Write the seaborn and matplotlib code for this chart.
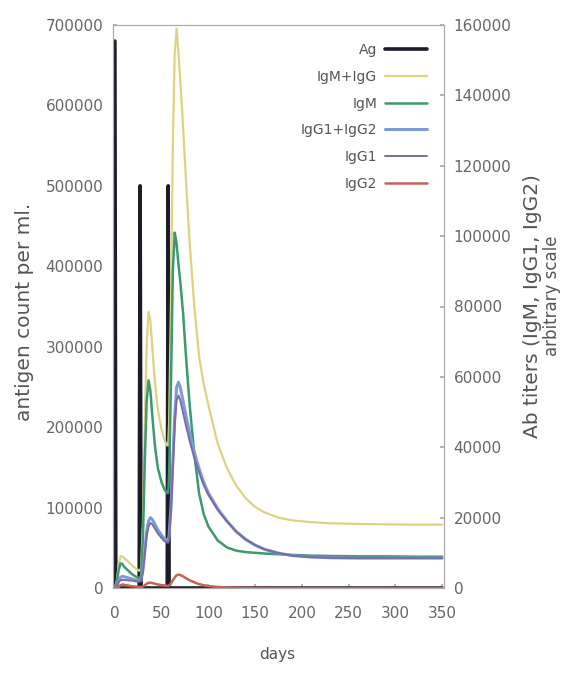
import numpy as np
import pandas as pd
import matplotlib
matplotlib.use("Agg")
import matplotlib.pyplot as plt
import seaborn as sns
from matplotlib.lines import Line2D

# ---------------- data ----------------
ag_days = [0, 1, 26, 27, 28, 56, 57, 58, 350]
ag_counts = [680000, 0, 0, 500000, 0, 0, 500000, 0, 0]

ab_days = [0, 2, 4, 6, 8, 10, 14, 18, 22, 26, 27, 28,
           30, 32, 34, 36, 38, 40, 43, 46, 50, 53, 56, 57,
           58, 60, 62, 64, 66, 68, 70, 73, 76, 80, 85, 90,
           95, 100, 110, 120, 130, 140, 150, 160, 175, 190, 210, 230,
           260, 290, 320, 350]

igm_igg = [0, 2000, 6500, 9000, 9000, 8500, 7600, 6500, 5600, 4900, 4900, 5800,
           19000, 46500, 69000, 78500, 76000, 68500, 58000, 50500, 45000, 42000, 40500, 40500,
           47000, 81000, 126000, 152000, 159000, 152000, 144000, 131000, 116000, 98000, 80000, 66000,
           58000, 52000, 41000, 34000, 29000, 25500, 23000, 21500, 20000, 19200, 18700, 18400,
           18200, 18100, 18000, 18000]

igm = [0, 1500, 5000, 7000, 6800, 6000, 5000, 4000, 3300, 2800, 2800, 3500,
       14000, 36000, 53000, 59000, 56000, 49000, 40000, 34000, 30000, 28000, 27000, 27000,
       32000, 58000, 90000, 101000, 98000, 92000, 87000, 78000, 66000, 52000, 38000, 27000,
       21000, 17500, 13500, 11500, 10600, 10200, 10000, 9800, 9600, 9400, 9200, 9100,
       9000, 9000, 8900, 8900]

igg1_igg2 = [0, 500, 2000, 3000, 3300, 3200, 2900, 2600, 2300, 2100, 2100, 2300,
             5000, 10500, 16000, 19000, 20000, 19500, 18000, 16500, 15000, 14000, 13500, 13500,
             15000, 23000, 36000, 49000, 57000, 58500, 57000, 53000, 49000, 44000, 38500, 34000,
             30000, 27000, 22500, 19000, 16000, 13800, 12200, 11000, 9900, 9200, 8800, 8600,
             8500, 8500, 8500, 8500]

igg1 = [0, 500, 1700, 2200, 2300, 2300, 2200, 2100, 1900, 1800, 1800, 2000,
        4600, 9700, 14800, 17500, 18500, 18100, 16800, 15500, 14200, 13300, 12900, 12900,
        14300, 21700, 33800, 46000, 53400, 54700, 53300, 49700, 46200, 41800, 36900, 32900,
        29200, 26450, 22200, 18850, 15920, 13760, 12180, 10990, 9900, 9200, 8800, 8600,
        8500, 8500, 8500, 8500]

igg2 = [0, 0, 300, 800, 1000, 900, 700, 500, 400, 300, 300, 300,
        400, 800, 1200, 1500, 1500, 1400, 1200, 1000, 800, 700, 600, 600,
        700, 1300, 2200, 3000, 3600, 3800, 3700, 3300, 2800, 2200, 1600, 1100,
        800, 550, 300, 150, 80, 40, 20, 10, 0, 0, 0, 0,
        0, 0, 0, 0]

series_names = ["Ag", "IgM+IgG", "IgM", "IgG1+IgG2", "IgG1", "IgG2"]
left_ticks = [0, 100000, 200000, 300000, 400000, 500000, 600000, 700000]
right_ticks = [0, 20000, 40000, 60000, 80000, 100000, 120000, 140000, 160000]
x_ticks = [0, 50, 100, 150, 200, 250, 300, 350]

# ---------------- style ----------------
colors = {
    "Ag": "#1c1c28",
    "IgM+IgG": "#ddd382",
    "IgM": "#3c9a6c",
    "IgG1+IgG2": "#7f9bd6",
    "IgG1": "#7a6aa6",
    "IgG2": "#c8605a",
}
widths = {"Ag": 2.6, "IgM+IgG": 1.6, "IgM": 1.8, "IgG1+IgG2": 2.2, "IgG1": 1.4, "IgG2": 1.8}

sns.set_theme(style="white")
plt.rcParams["font.family"] = ["DejaVu Sans"]

tick_color = "#666666"
label_color = "#555555"
spine_color = "#aaaaaa"

fig = plt.figure(figsize=(5.73, 6.81), dpi=100)
ax = fig.add_axes([113 / 573, 1 - 588 / 681, (444 - 113) / 573, (588 - 25) / 681])
ax2 = ax.twinx()

# Antigen on left axis
sns.lineplot(x=ag_days, y=ag_counts, ax=ax, color=colors["Ag"], linewidth=widths["Ag"],
             estimator=None, sort=False)

# Antibodies on right axis
ab_df = pd.concat([
    pd.DataFrame({"day": ab_days, "value": vals, "series": name})
    for name, vals in [("IgM+IgG", igm_igg), ("IgM", igm), ("IgG1+IgG2", igg1_igg2),
                       ("IgG1", igg1), ("IgG2", igg2)]
], ignore_index=True)

for name in ["IgM+IgG", "IgM", "IgG1+IgG2", "IgG1", "IgG2"]:
    sub = ab_df[ab_df["series"] == name]
    sns.lineplot(data=sub, x="day", y="value", ax=ax2, color=colors[name],
                 linewidth=widths[name], estimator=None, sort=False)

ax.set_xlim(-2, 352)
ax.set_ylim(0, 700000)
ax2.set_ylim(0, 160000)

ax.set_xticks(x_ticks)
ax.set_xticklabels([str(v) for v in x_ticks])
ax.set_yticks(left_ticks)
ax.set_yticklabels([str(v) for v in left_ticks])
ax2.set_yticks(right_ticks)
ax2.set_yticklabels([str(v) for v in right_ticks])

for a in (ax, ax2):
    a.set_xlabel("")
    a.set_ylabel("")
    for s in a.spines.values():
        s.set_color(spine_color)
        s.set_linewidth(0.8)

ax.tick_params(axis="x", direction="in", length=3, color=spine_color, labelsize=11,
               labelcolor=tick_color, pad=13, top=False, bottom=True)
ax.tick_params(axis="y", direction="in", length=3, color=spine_color, labelsize=11,
               labelcolor=tick_color, pad=7, left=True)
ax2.tick_params(axis="y", direction="in", length=3, color=spine_color, labelsize=11,
                labelcolor=tick_color, pad=7, right=True)

# Legend (gnuplot style: label left of sample, right-aligned)
handles = [Line2D([0], [0], color=colors[n], linewidth=widths[n]) for n in series_names]
leg = ax2.legend(handles, series_names, loc="upper right", markerfirst=False, frameon=False,
                 fontsize=10, handlelength=3.0, handletextpad=0.6, labelspacing=0.92,
                 borderpad=0, borderaxespad=0,
                 bbox_to_anchor=((427 - 113) / 331, (588 - 43) / 563))
for t in leg.get_texts():
    t.set_color(label_color)

# Axis labels
fig.text(277 / 573, 1 - 655 / 681, "days", ha="center", va="center", fontsize=11,
         color=label_color)
fig.text(25 / 573, 1 - 312 / 681, "antigen count per ml.", ha="center", va="center",
         rotation=90, fontsize=14.5, color=label_color)
fig.text(533 / 573, 1 - 306 / 681, "Ab titers (IgM, IgG1, IgG2)", ha="center", va="center",
         rotation=90, fontsize=14.5, color=label_color)
fig.text(552 / 573, 1 - 296 / 681, "arbitrary scale", ha="center", va="center",
         rotation=90, fontsize=12, color=label_color)

fig.savefig("out.png", dpi=100, facecolor="white")
